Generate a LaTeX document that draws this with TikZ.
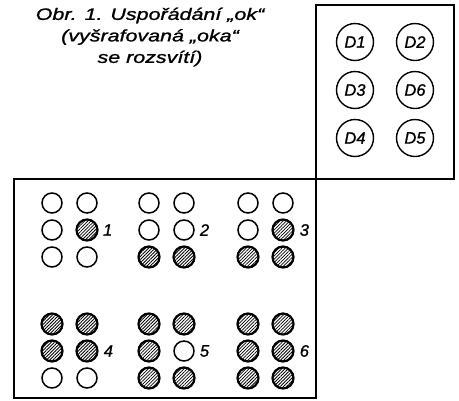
\documentclass[tikz,border=0pt]{standalone}
\usepackage{fontspec}
\setmainfont[FakeBold=1]{Liberation Sans}
\newfontfamily\titlefont[FakeStretch=1.3,FakeBold=1.2]{Liberation Sans}
\usetikzlibrary{patterns.meta,positioning}

\tikzset{
  oko0/.style={circle,draw,line width=1.5pt,minimum size=20pt,inner sep=0pt},
  oko1/.style={oko0,line width=2.2pt,minimum size=21pt,
    pattern={Lines[angle=45,distance=2.3pt,line width=0.8pt]}},
  dioda/.style={circle,draw,line width=1.4pt,minimum size=37pt,inner sep=0pt,
    font=\itshape\fontsize{16.5}{16.5}\selectfont},
  cislo/.style={inner sep=0pt,font=\itshape\fontsize{16.5}{16.5}\selectfont},
}

\begin{document}
\begin{tikzpicture}[x=1pt,y=-1pt]
  \useasboundingbox (0,0) rectangle (459,400);
  \node[align=center,font=\titlefont\itshape\fontsize{16.5}{21.5}\selectfont] (nadpis) at (150,37)
    {Obr. 1. Uspořádání „ok“\\(vyšrafovaná „oka“\\se rozsvítí)};

  % panel s diodami
  \draw[line width=1.4pt] (316,5) rectangle (454,179);
  \node[dioda] (d1) at (355,42) {D1};
  \node[dioda] (d2) at (415,42) {D2};
  \node[dioda] (d3) at (355,90) {D3};
  \node[dioda] (d6) at (415,90) {D6};
  \node[dioda] (d4) at (355,138) {D4};
  \node[dioda] (d5) at (415,138) {D5};

  % rozsvicena oka pro 1 az 6
  \draw[line width=1.4pt] (14,179) rectangle (316,398);
  \foreach \n/\gx/\gy/\st in {1/52/203/{0,0,0,0,1,0},2/149/203/{0,0,1,0,0,1},
      3/248/203/{0,0,1,0,1,1},4/52/324/{1,1,0,1,1,0},5/149/324/{1,1,1,1,0,1},
      6/248/324/{1,1,1,1,1,1}} {
    \foreach \k in {0,...,5} {
      \pgfmathtruncatemacro\on{{\st}[\k]}
      \node[oko\on] (o\n-\k) at ({\gx+35*int(\k/3)},{\gy+27*mod(\k,3)}) {};
    }
    \node[cislo,right=5pt of o\n-4] (c\n) {\n};
  }
\end{tikzpicture}
\end{document}
